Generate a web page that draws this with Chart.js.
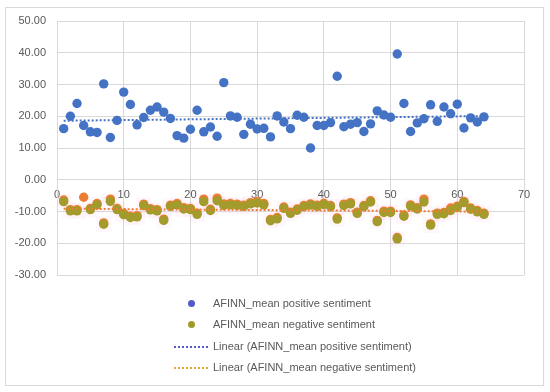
<!DOCTYPE html>
<html>
<head>
<meta charset="utf-8">
<script src="https://cdn.jsdelivr.net/npm/chart.js@4/dist/chart.umd.min.js"></script>
<style>
  body { margin: 0; background: #fff; }
  #wrap { position: relative; width: 550px; height: 392px; }
  #frame { position: absolute; left: 5px; top: 7px; width: 539px; height: 379px; border: 1px solid #d9d9d9; box-sizing: border-box; pointer-events: none; }
  #legend { position: absolute; left: 170px; top: 293px; font: 11px "Liberation Sans", sans-serif; color: #595959; }
  .row { height: 21.3px; line-height: 21.3px; white-space: nowrap; position: relative; padding-left: 43px; }
  .dot { position: absolute; left: 18px; top: 7px; width: 7px; height: 7px; border-radius: 50%; }
  .dash { position: absolute; left: 4px; top: 10px; width: 34px; border-top: 2px dotted; }
</style>
</head>
<body>
<div id="wrap">
  <canvas id="chart" width="550" height="392"></canvas>
  <div id="frame"></div>
  <div id="legend"></div>
</div>
<script>
// row index of each observation
const runs = [1,2,3,4,5,6,7,8,9,10,11,12,13,14,15,16,17,18,19,20,21,22,23,24,25,26,27,28,29,30,31,32,
  33,34,35,36,37,38,39,40,41,42,43,44,45,46,47,48,49,50,51,52,53,54,55,56,57,58,59,60,61,62,63,64];

const positive = [16.1,20.0,24.0,17.1,15.1,14.9,30.2,13.3,18.7,27.6,
  23.7,17.3,19.6,21.9,22.9,21.3,19.3,13.9,13.1,15.9,
  21.9,15.1,16.6,13.7,30.6,20.1,19.7,14.3,17.5,16.0,
  16.2,13.5,20.1,18.2,16.1,20.3,19.7,10.0,17.1,17.1,
  18.0,32.6,16.7,17.5,18.0,15.2,17.6,21.7,20.4,19.7,
  39.6,24.0,15.2,17.9,19.2,23.6,18.4,22.9,20.8,23.8,
  16.3,19.5,18.2,19.8];

const negative = [-6.9,-9.8,-9.8,null,-9.4,-7.9,-14.0,-6.8,-9.4,-11.0,
  -11.9,-11.7,-8.1,-9.5,-9.8,-12.8,-8.4,-7.9,-9.2,-9.4,
  -10.9,-6.9,-9.7,-6.6,-8.1,-7.9,-8.1,-8.4,-7.6,-7.3,
  -7.9,-12.9,-12.3,-9.0,-10.6,-9.6,-8.5,-8.0,-8.4,-7.8,
  -8.5,-12.4,-8.1,-7.6,-10.6,-8.5,-7.0,-13.2,-10.3,-10.3,
  -18.6,-11.5,-8.3,-9.2,-7.0,-14.3,-10.9,-10.7,-9.7,-8.7,
  -7.2,-9.3,-10.1,-10.9];

// orange marks showing just above the olive ones in the picture
const negativeShadow = [-6.4,-9.4,-9.4,-5.5,-9.0,-7.5,-13.6,-6.1,-9.0,-10.6,
  -11.5,-11.3,-7.7,-9.1,-9.4,-12.4,-8.0,-7.5,-8.8,-9.0,
  -10.5,-6.1,-9.3,-5.8,-7.6,-7.5,-7.7,-8.0,-7.2,-6.9,
  -7.5,-12.5,-11.9,-8.6,-10.2,-9.2,-8.1,-7.6,-8.0,-7.4,
  -8.1,-12.0,-7.7,-7.2,-10.2,-8.1,-6.6,-12.8,-9.9,-9.9,
  -18.2,-11.1,-7.9,-8.8,-6.1,-13.9,-10.5,-10.3,-8.9,-8.3,
  -6.8,-8.9,-9.7,-10.5];

const yTicks = [-30, -20, -10, 0, 10, 20, 30, 40, 50];
const xTicks = [0, 10, 20, 30, 40, 50, 60, 70];

const legendLabels = [
  'AFINN_mean positive sentiment',
  'AFINN_mean negative sentiment',
  'Linear (AFINN_mean positive sentiment)',
  'Linear (AFINN_mean negative sentiment)'
];

const BLUE = '#4472c4';
const OLIVE = '#a39b2b';
const ORANGE = '#ed7d31';

function toPoints(values) {
  return runs.map((x, i) => ({ x: x, y: values[i] }));
}

// least squares line over the non-empty points, like Excel's linear trendline
function trendLine(values) {
  const pts = toPoints(values).filter(p => p.y !== null);
  const n = pts.length;
  let sx = 0, sy = 0, sxx = 0, sxy = 0;
  pts.forEach(p => { sx += p.x; sy += p.y; sxx += p.x * p.x; sxy += p.x * p.y; });
  const slope = (n * sxy - sx * sy) / (n * sxx - sx * sx);
  const icpt = (sy - slope * sx) / n;
  const first = runs[0], last = runs[runs.length - 1];
  return [{ x: first, y: icpt + slope * first }, { x: last, y: icpt + slope * last }];
}

const tickFont = { family: '"Liberation Sans", sans-serif', size: 11 };

new Chart(document.getElementById('chart'), {
  type: 'scatter',
  data: {
    datasets: [
      {
        label: legendLabels[2],
        type: 'line',
        data: trendLine(positive),
        borderColor: BLUE,
        borderWidth: 2,
        borderDash: [2, 2],
        pointRadius: 0,
        order: 0
      },
      {
        label: legendLabels[3],
        type: 'line',
        data: trendLine(negative),
        borderColor: ORANGE,
        borderWidth: 2,
        borderDash: [2, 2],
        pointRadius: 0,
        order: 1
      },
      {
        label: legendLabels[0],
        data: toPoints(positive),
        backgroundColor: BLUE,
        borderWidth: 0,
        pointRadius: 4.7,
        order: 2
      },
      {
        label: legendLabels[1],
        data: toPoints(negative),
        backgroundColor: OLIVE,
        borderWidth: 0,
        pointRadius: 4.7,
        order: 3
      },
      {
        label: 'shadow',
        data: toPoints(negativeShadow),
        backgroundColor: ORANGE,
        borderWidth: 0,
        pointRadius: 4.7,
        order: 4
      },
      {
        label: 'highlight',
        data: toPoints(negative),
        pointStyle: 'rect',
        backgroundColor: 'rgba(250,200,230,0.14)',
        borderWidth: 0,
        pointRadius: 11,
        order: 5
      }
    ]
  },
  options: {
    responsive: false,
    animation: false,
    events: [],
    layout: { padding: { left: 0, right: 26, top: 21, bottom: 117 } },
    plugins: { legend: { display: false }, tooltip: { enabled: false } },
    scales: {
      x: {
        type: 'linear',
        position: { y: 0 },
        min: 0,
        max: 70,
        afterBuildTicks: s => { s.ticks = xTicks.map(v => ({ value: v })); },
        grid: { color: '#d9d9d9', drawTicks: false },
        border: { color: '#d9d9d9' },
        ticks: { color: '#595959', font: tickFont, padding: 9, maxRotation: 0 }
      },
      y: {
        min: -30,
        max: 50,
        afterBuildTicks: s => { s.ticks = yTicks.map(v => ({ value: v })); },
        afterFit: s => { s.width = 57; },
        grid: { color: '#d9d9d9', drawTicks: false },
        border: { color: '#d9d9d9' },
        ticks: { color: '#595959', font: tickFont, padding: 11, callback: v => v.toFixed(2) }
      }
    }
  }
});

// legend as a single column, like the original
const legend = document.getElementById('legend');
legendLabels.forEach((label, i) => {
  const row = document.createElement('div');
  row.className = 'row';
  const mark = document.createElement('span');
  if (i < 2) {
    mark.className = 'dot';
    mark.style.background = i === 0 ? '#5558c8' : '#a09a2c';
  } else {
    mark.className = 'dash';
    mark.style.borderColor = i === 2 ? '#5558c8' : '#e0a838';
  }
  row.appendChild(mark);
  row.appendChild(document.createTextNode(label));
  legend.appendChild(row);
});
</script>
</body>
</html>
